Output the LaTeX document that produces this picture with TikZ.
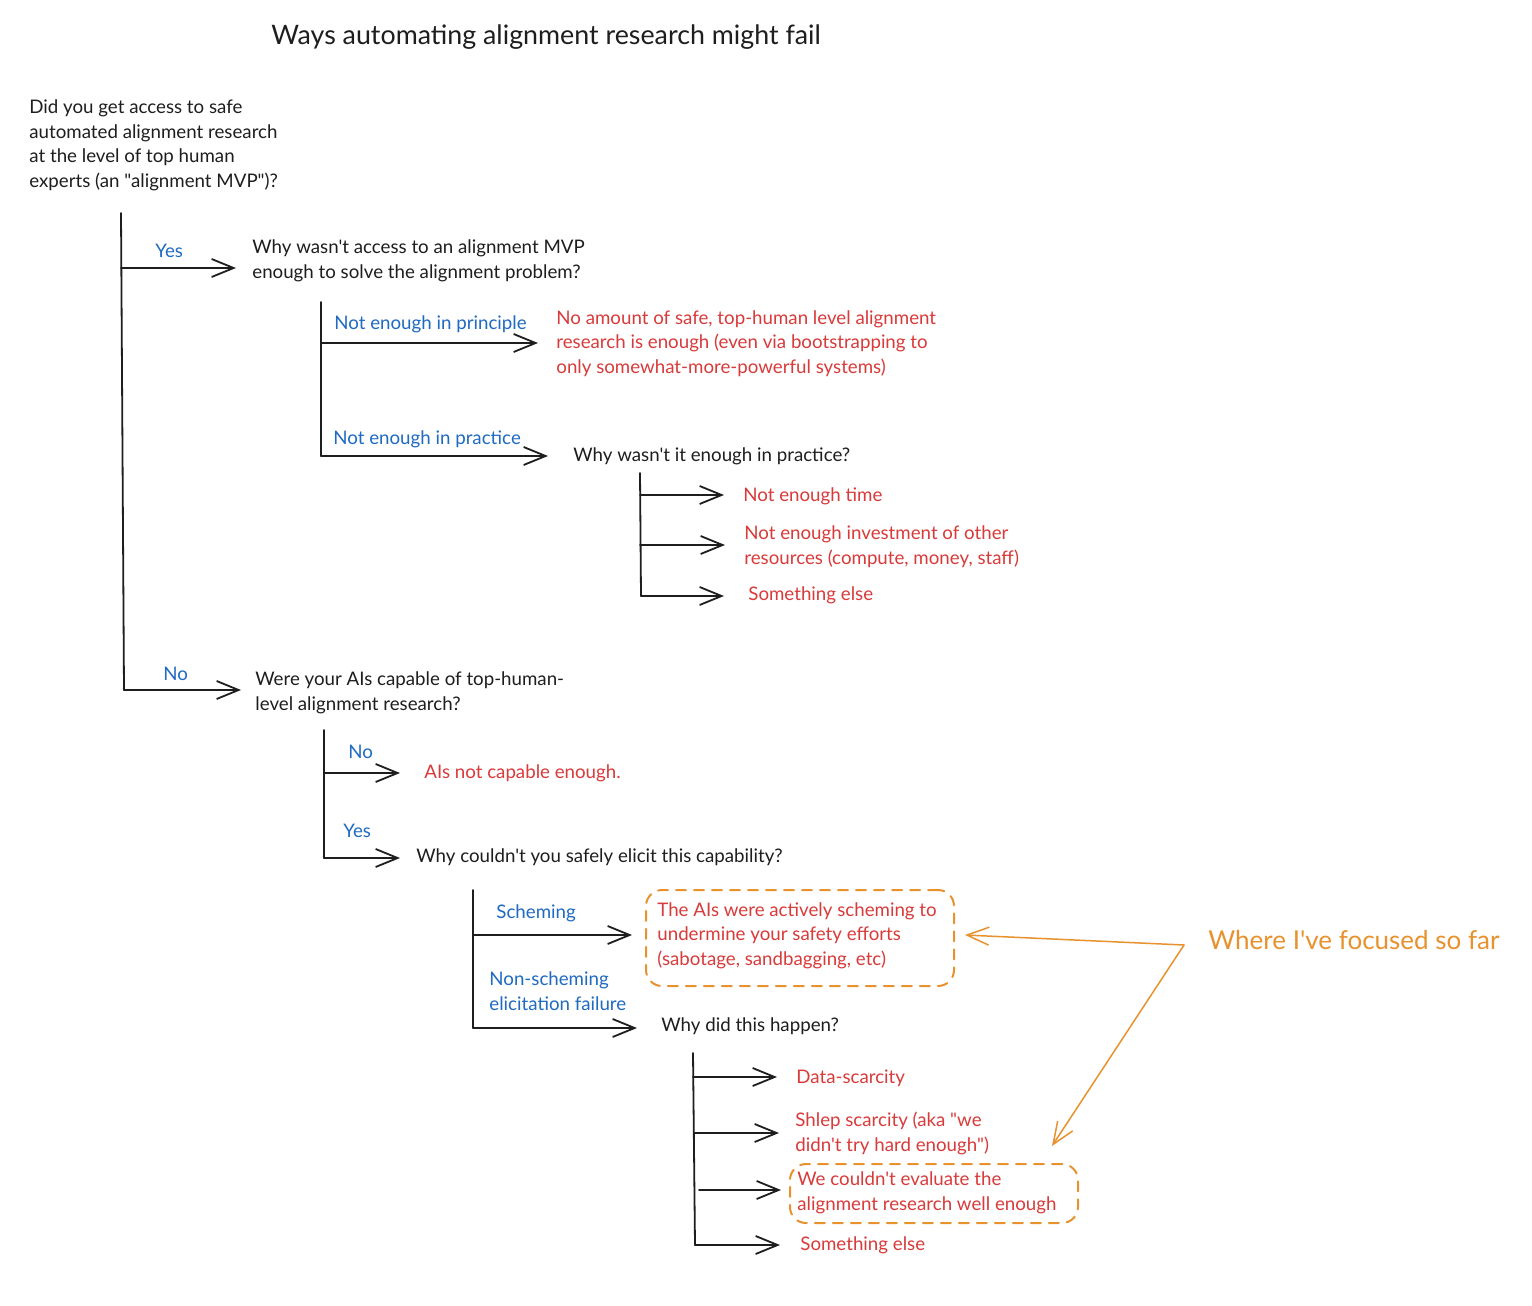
\documentclass[tikz,border=0pt]{standalone}
\usepackage{fontspec}
\setmainfont{Lato}[Ligatures=TeXOff]
\usetikzlibrary{arrows.meta}
\definecolor{ink}{HTML}{1E1E1E}
\definecolor{xblue}{HTML}{1F6AC2}
\definecolor{xred}{HTML}{D93A3A}
\definecolor{xorange}{HTML}{E8922E}
\begin{document}
\begin{tikzpicture}[x=0.5pt,y=-0.5pt,
  line cap=round, line join=round,
  txt/.style={anchor=base west, inner sep=0pt, align=left, font=\fontsize{9.35}{12.2}\selectfont, text=ink},
  lbl/.style={txt, text=xblue},
  res/.style={txt, text=xred},
  big/.style={anchor=base west, inner sep=0pt},
  trunk/.style={draw=ink, line width=0.9pt},
  arr/.style={draw=ink, line width=0.9pt, -{Straight Barb[length=11pt,width=9pt,line width=0.9pt]}},
  oarr/.style={draw=xorange, line width=0.75pt, -{Straight Barb[length=11pt,width=9pt,line width=0.75pt]}},
  dbox/.style={draw=xorange, line width=1pt, dash pattern=on 5pt off 4pt, rounded corners=8pt, anchor=north west, inner sep=0pt}
]
\useasboundingbox[fill=white] (0,0) rectangle (1532,1306);

% title
\node[big, text=ink, font=\fontsize{13.4}{16}\selectfont] (title) at (271,44) {Ways automating alignment research might fail};

% level 1 (multi-line nodes are placed at the baseline of their last line)
\node[txt] (q1) at (29,187) {Did you get access to safe\\automated alignment research\\at the level of top human\\experts (an "alignment MVP")?};
\coordinate (t1a) at (121,213);
\coordinate (t1y) at (121,268);
\coordinate (t1n) at (124,690);
\coordinate (e1y) at (236,268);
\coordinate (e1n) at (241,690);
\draw[trunk] (t1a) -- (t1n);
\draw[arr] (t1y) -- (e1y);
\draw[arr] (t1n) -- (e1n);
\node[lbl] (yes1) at (155,257) {Yes};
\node[lbl] (no1) at (163,680) {No};

% yes branch
\node[txt] (q2) at (252,278) {Why wasn't access to an alignment MVP\\enough to solve the alignment problem?};
\coordinate (t2a) at (321,302);
\coordinate (t2p) at (321,343);
\coordinate (t2q) at (321,456);
\coordinate (e2p) at (538,343);
\coordinate (e2q) at (548,456);
\draw[trunk] (t2a) -- (t2q);
\draw[arr] (t2p) -- (e2p);
\draw[arr] (t2q) -- (e2q);
\node[lbl] (np) at (334,329) {Not enough in principle};
\node[lbl] (npr) at (333,444) {Not enough in practice};
\node[res] (nptxt) at (556,373) {No amount of safe, top-human level alignment\\research is enough (even via bootstrapping to\\only somewhat-more-powerful systems)};
\node[txt] (q4) at (573,461) {Why wasn't it enough in practice?};

\coordinate (t3a) at (640,473);
\coordinate (t3b) at (640,495);
\coordinate (t3c) at (640,545);
\coordinate (t3d) at (641,596);
\coordinate (e3b) at (724,495);
\coordinate (e3c) at (725,545);
\coordinate (e3d) at (724,596);
\draw[trunk] (t3a) -- (t3d);
\draw[arr] (t3b) -- (e3b);
\draw[arr] (t3c) -- (e3c);
\draw[arr] (t3d) -- (e3d);
\node[res] (r1) at (743,501) {Not enough time};
\node[res] (r2) at (744,564) {Not enough investment of other\\resources (compute, money, staff)};
\node[res] (r3) at (748,600) {Something else};

% no branch
\node[txt] (q3) at (255,710) {Were your AIs capable of top-human-\\level alignment research?};
\coordinate (t4a) at (324,730);
\coordinate (t4n) at (325,773);
\coordinate (t4y) at (324,858);
\coordinate (e4n) at (400,773);
\coordinate (e4y) at (400,858);
\draw[trunk] (t4a) -- (t4y);
\draw[arr] (t4n) -- (e4n);
\draw[arr] (t4y) -- (e4y);
\node[lbl] (no2) at (348,758) {No};
\node[lbl] (yes2) at (343,837) {Yes};
\node[res] (r4) at (424,778) {AIs not capable enough.};
\node[txt] (q5) at (416,862) {Why couldn't you safely elicit this capability?};

\coordinate (t5a) at (473,890);
\coordinate (t5s) at (473,935);
\coordinate (t5n) at (473,1028);
\coordinate (e5s) at (632,935);
\coordinate (e5n) at (637,1028);
\draw[trunk] (t5a) -- (t5n);
\draw[arr] (t5s) -- (e5s);
\draw[arr] (t5n) -- (e5n);
\node[lbl] (sch) at (496,918) {Scheming};
\node[lbl] (nsch) at (489,1010) {Non-scheming\\elicitation failure};
\node[dbox, minimum width=154pt, minimum height=48pt] (sbox) at (645,889) {};
\node[res] (r5) at (657,965) {The AIs were actively scheming to\\undermine your safety efforts\\(sabotage, sandbagging, etc)};
\node[txt] (q6) at (661,1031) {Why did this happen?};

\coordinate (t6a) at (693,1053);
\coordinate (t6b) at (693,1077);
\coordinate (t6c) at (694,1133);
\coordinate (t6d) at (699,1190);
\coordinate (t6e) at (695,1245);
\coordinate (e6b) at (777,1077);
\coordinate (e6c) at (779,1133);
\coordinate (e6d) at (781,1190);
\coordinate (e6e) at (780,1245);
\draw[trunk] (t6a) -- (t6e);
\draw[arr] (t6b) -- (e6b);
\draw[arr] (t6c) -- (e6c);
\draw[arr] (t6d) -- (e6d);
\draw[arr] (t6e) -- (e6e);
\node[res] (r6) at (796,1083) {Data-scarcity};
\node[res] (r7) at (795,1151) {Shlep scarcity (aka "we\\didn't try hard enough")};
\node[dbox, minimum width=144pt, minimum height=29.5pt] (ebox) at (789,1163) {};
\node[res] (r8) at (797,1210) {We couldn't evaluate the\\alignment research well enough};
\node[res] (r9) at (800,1250) {Something else};

% focus annotation
\node[big, text=xorange, font=\fontsize{13}{16}\selectfont] (focus) at (1208,949) {Where I've focused so far};
\coordinate (fo) at (1184,945);
\coordinate (etip) at (1052,1146);
\draw[oarr] (fo) -- ([xshift=5pt,yshift=1.5pt]sbox.east);
\draw[oarr] (fo) -- (etip);
\end{tikzpicture}
\end{document}
